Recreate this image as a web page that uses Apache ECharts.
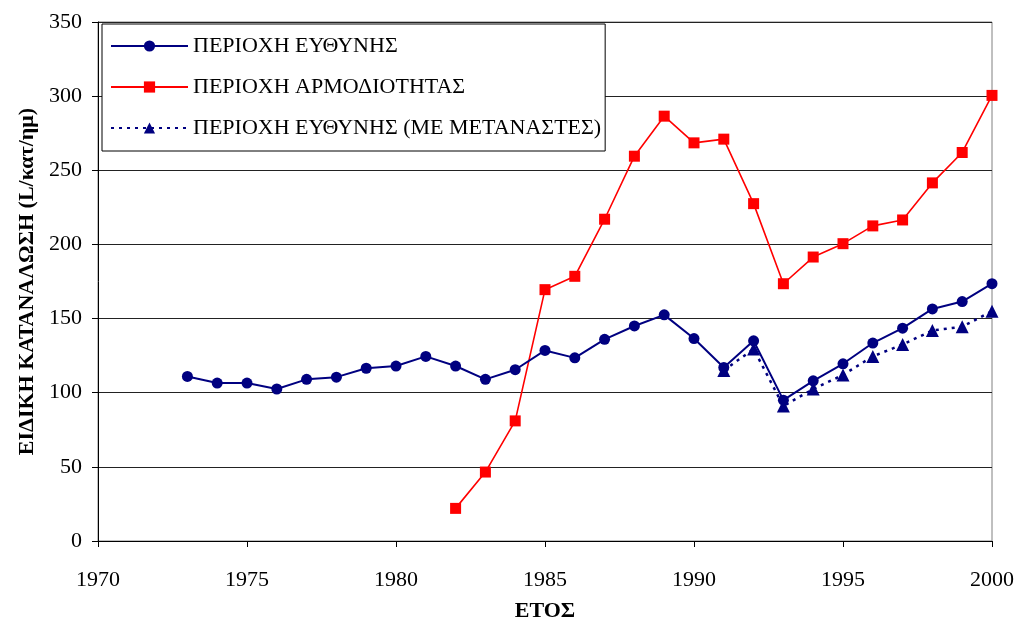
<!DOCTYPE html>
<html>
<head>
<meta charset="utf-8">
<script src="https://cdn.jsdelivr.net/npm/echarts@6/dist/echarts.min.js"></script>
<style>
  html, body { margin: 0; padding: 0; background: #fff; }
  #chart { width: 1016px; height: 621px; }
</style>
</head>
<body>
<div id="chart"></div>
<script>
// ειδική κατανάλωση ανά έτος
const yearsEuthynis = [1973, 1974, 1975, 1976, 1977, 1978, 1979, 1980, 1981, 1982, 1983, 1984, 1985, 1986,
  1987, 1988, 1989, 1990, 1991, 1992, 1993, 1994, 1995, 1996, 1997, 1998, 1999, 2000];
const valuesEuthynis = [111, 106.5, 106.5, 102.5, 109, 110.5, 116.5, 118, 124.5, 118, 109, 115.5, 128.5, 123.5,
  136, 145, 152.5, 136.5, 117, 135, 95, 108, 119.5, 133.5, 143.5, 156.5, 161.5, 173.5];

const yearsArmod = [1982, 1983, 1984, 1985, 1986, 1987, 1988, 1989, 1990, 1991, 1992, 1993, 1994, 1995,
  1996, 1997, 1998, 1999, 2000];
const valuesArmod = [22, 46.5, 81, 169.5, 178.5, 217, 259.5, 286.5, 268.5, 271, 227.5, 173.5, 191.5, 200.5,
  212.5, 216.5, 241.5, 262, 300.5];

const yearsMetan = [1991, 1992, 1993, 1994, 1995, 1996, 1997, 1998, 1999, 2000];
const valuesMetan = [115, 129.5, 91, 102.5, 112, 124.5, 132.5, 142, 144.5, 155];

const seriesNames = ['ΠΕΡΙΟΧΗ ΕΥΘΥΝΗΣ', 'ΠΕΡΙΟΧΗ ΑΡΜΟΔΙΟΤΗΤΑΣ', 'ΠΕΡΙΟΧΗ ΕΥΘΥΝΗΣ (ΜΕ ΜΕΤΑΝΑΣΤΕΣ)'];

const pairs = (xs, ys) => xs.map((x, i) => [x, ys[i]]);
const serif = '"Liberation Serif", "DejaVu Serif", serif';

let myChart = echarts.init(document.getElementById('chart'));
let option = {
  animation: false,
  backgroundColor: '#fff',
  grid: {
    left: 98, right: 24, top: 22, bottom: 80,
    outerBoundsMode: 'none',
    show: true, borderColor: '#808080', borderWidth: 1
  },
  legend: {
    orient: 'vertical',
    left: 102, top: 24,
    padding: [11, 4, 12, 8],
    itemWidth: 77, itemHeight: 14, itemGap: 19,
    backgroundColor: '#fff',
    borderColor: '#000', borderWidth: 1,
    textStyle: { fontFamily: serif, fontSize: 22, lineHeight: 21, color: '#000' },
    data: seriesNames
  },
  xAxis: {
    type: 'value',
    min: 1970, max: 2000, interval: 5,
    name: 'ΕΤΟΣ',
    nameLocation: 'middle',
    nameGap: 59,
    nameTextStyle: { fontFamily: serif, fontSize: 22, fontWeight: 'bold', color: '#000' },
    axisLine: { lineStyle: { color: '#000', width: 1 } },
    axisTick: { show: true, length: 6, lineStyle: { color: '#000' } },
    axisLabel: { fontFamily: serif, fontSize: 22, color: '#000', margin: 28, formatter: v => String(v) },
    splitLine: { show: false }
  },
  yAxis: {
    type: 'value',
    min: 0, max: 350, interval: 50,
    name: 'ΕΙΔΙΚΗ ΚΑΤΑΝΑΛΩΣΗ (L/κατ/ημ)',
    nameLocation: 'middle',
    nameGap: 60,
    nameTextStyle: { fontFamily: serif, fontSize: 22, fontWeight: 'bold', color: '#000' },
    axisLine: { show: true, lineStyle: { color: '#000', width: 1 } },
    axisTick: { show: true, length: 6, lineStyle: { color: '#000' } },
    axisLabel: { fontFamily: serif, fontSize: 22, color: '#000', margin: 16 },
    splitLine: { show: true, lineStyle: { color: '#222', width: 1 } }
  },
  series: [
    {
      name: seriesNames[0],
      type: 'line',
      data: pairs(yearsEuthynis, valuesEuthynis),
      symbol: 'circle', symbolSize: 11,
      itemStyle: { color: '#000080' },
      lineStyle: { color: '#000080', width: 2 },
      z: 3
    },
    {
      name: seriesNames[1],
      type: 'line',
      data: pairs(yearsArmod, valuesArmod),
      symbol: 'rect', symbolSize: 11,
      itemStyle: { color: '#ff0000' },
      lineStyle: { color: '#ff0000', width: 1.6 },
      z: 2
    },
    {
      name: seriesNames[2],
      type: 'line',
      data: pairs(yearsMetan, valuesMetan),
      symbol: 'triangle', symbolSize: 13,
      itemStyle: { color: '#000080' },
      lineStyle: { color: '#000080', width: 2.5, type: [3, 5] },
      z: 4
    }
  ]
};
myChart.setOption(option);
</script>
</body>
</html>
